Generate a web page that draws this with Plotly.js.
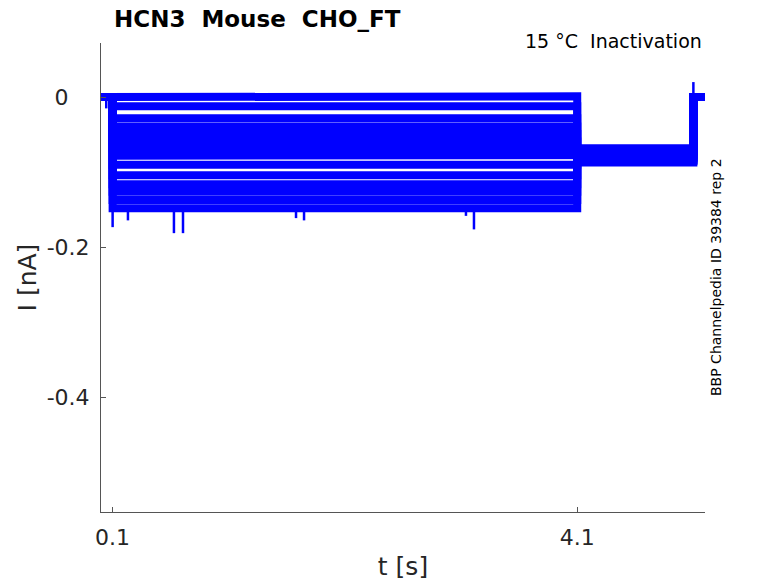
<!DOCTYPE html>
<html>
<head>
<meta charset="utf-8">
<script src="https://cdn.plot.ly/plotly-3.0.1.min.js"></script>
<style>html,body{margin:0;padding:0;background:#fff;}#chart{width:778px;height:583px;}</style>
</head>
<body>
<div id="chart"></div>
<script>
// Protocol times (s): start, step on, step off, tail off, end of record
const protocolTimes = [0, 0.1, 4.1, 5.1, 5.2];
// Holding / return level (nA)
const baselineLevel = 0;
// Current level during the 4 s step, one per sweep (nA)
const stepLevels = [0.001, -0.012, -0.028, -0.039, -0.049, -0.059, -0.068,
                    -0.078, -0.090, -0.104, -0.116, -0.126, -0.137, -0.148];
// Current level during the tail, one per sweep (nA)
const tailLevels = [-0.072, -0.080, -0.068, -0.085, -0.075, -0.070, -0.083,
                    -0.077, -0.087, -0.073, -0.081, -0.069, -0.079, -0.084];
// Transient spikes seen on the deepest sweep (time s, current nA)
const spikeTimes  = [0.1,    0.232,  0.628,  0.706,  1.679,  1.748,  3.142,  3.211];
const spikeValues = [-0.173, -0.164, -0.181, -0.181, -0.161, -0.164, -0.158, -0.176];
// Small features near holding level (time s, current nA)
const preSpikeTime = [0.045], preSpikeValue = [-0.015];
const offSpikeTime = [5.1],   offSpikeValue = [0.02];
// Axis ticks
const xTickVals = [0.1, 4.1];
const xTickText = ['0.1', '4.1'];
const yTickVals = [0, -0.2, -0.4];
const yTickText = ['0\u00a0\u00a0\u00a0', '-0.2', '-0.4'];

const [t0, tOn, tOff, tTail, tEnd] = protocolTimes;
const traces = [];
const blue = '#0000ff';

// Sweeps (thick lines stand in for the noise band of each sweep)
stepLevels.forEach((L, i) => {
  const T = tailLevels[i];
  traces.push({
    x: [t0, tOn, tOn, tOff, tOff, tTail, tTail, tEnd],
    y: [baselineLevel, baselineLevel, L, L, T, T, baselineLevel, baselineLevel],
    type: 'scatter', mode: 'lines',
    line: {color: blue, width: 8},
    hoverinfo: 'skip', showlegend: false
  });
});

// Thin transient spikes
const deepest = stepLevels[stepLevels.length - 1];
const sx = [], sy = [];
spikeTimes.forEach((st, k) => { sx.push(st, st, null); sy.push(deepest, spikeValues[k], null); });
preSpikeTime.forEach((st, k) => { sx.push(st, st, null); sy.push(baselineLevel, preSpikeValue[k], null); });
offSpikeTime.forEach((st, k) => { sx.push(st, st, null); sy.push(tailLevels[3], offSpikeValue[k], null); });
traces.push({
  x: sx, y: sy, type: 'scatter', mode: 'lines',
  line: {color: blue, width: 2.5},
  hoverinfo: 'skip', showlegend: false
});

const font = {family: 'DejaVu Sans, sans-serif', color: '#262626'};
const layout = {
  width: 778, height: 583,
  paper_bgcolor: '#ffffff', plot_bgcolor: '#ffffff',
  margin: {l: 101, r: 73, t: 43, b: 71, pad: 0},
  showlegend: false,
  title: {
    text: '<b>HCN3  Mouse  CHO_FT</b>',
    font: {family: 'DejaVu Sans, sans-serif', size: 23, color: '#000000'},
    xref: 'container', yref: 'container',
    x: 114 / 778, xanchor: 'left',
    y: 1 - 19 / 583, yanchor: 'middle'
  },
  xaxis: {
    range: [t0, tEnd], showgrid: false, zeroline: false,
    showline: true, linecolor: '#555555', linewidth: 1,
    ticks: 'inside', ticklen: 5, tickcolor: '#555555',
    tickvals: xTickVals, ticktext: xTickText,
    tickfont: Object.assign({size: 22}, font),
    ticklabelstandoff: 6,
    title: {text: 't [s]', font: Object.assign({size: 25}, font), standoff: 8},
    automargin: false
  },
  yaxis: {
    range: [-0.552, 0.072], showgrid: false, zeroline: false,
    showline: true, linecolor: '#555555', linewidth: 1,
    ticks: 'inside', ticklen: 5, tickcolor: '#555555',
    tickvals: yTickVals, ticktext: yTickText,
    tickfont: Object.assign({size: 22}, font),
    ticklabelstandoff: 6,
    title: {text: 'I [nA]', font: Object.assign({size: 25}, font), standoff: 2},
    automargin: false
  },
  annotations: [
    {text: '15 °C  Inactivation', xref: 'paper', yref: 'paper',
     x: 1, xanchor: 'right', xshift: -1, y: (512 - 41) / 469, yanchor: 'middle',
     showarrow: false, font: {family: 'DejaVu Sans, sans-serif', size: 19, color: '#000000'}},
    {text: 'BBP Channelpedia ID 39384 rep 2', xref: 'paper', yref: 'paper',
     x: (716 - 101) / 604, xanchor: 'center', y: (512 - 277) / 469, yanchor: 'middle',
     textangle: -90, showarrow: false,
     font: {family: 'DejaVu Sans, sans-serif', size: 14, color: '#000000'}}
  ]
};

Plotly.newPlot('chart', traces, layout, {displayModeBar: false, staticPlot: true});
</script>
</body>
</html>
